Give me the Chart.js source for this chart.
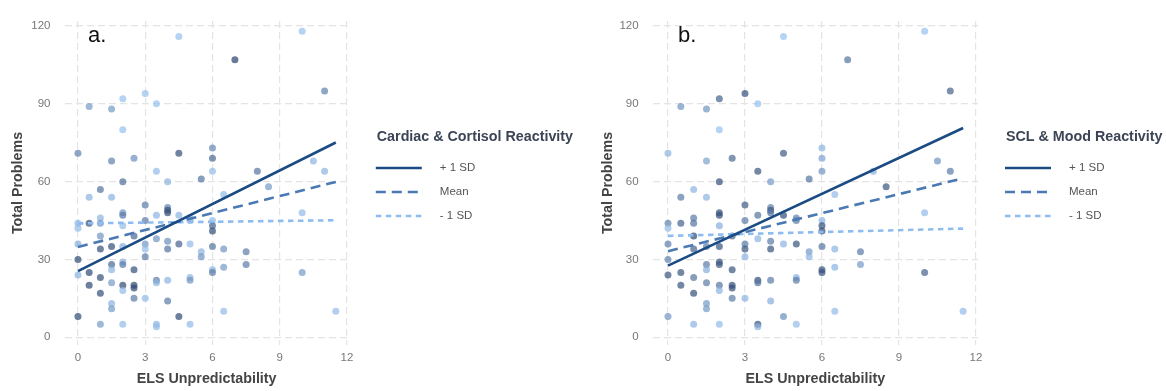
<!DOCTYPE html>
<html>
<head>
<meta charset="utf-8">
<script src="https://cdn.jsdelivr.net/npm/chart.js@4.4.1/dist/chart.umd.min.js"></script>
<style>
  html, body { margin: 0; padding: 0; background: #fff; }
  .panel { position: absolute; top: 0; }
  #panelA { left: 0; }
  #panelB { left: 590px; }
</style>
</head>
<body>
<div class="panel" id="panelA"><canvas id="chartA" width="590" height="391"></canvas></div>
<div class="panel" id="panelB"><canvas id="chartB" width="576" height="391"></canvas></div>
<script>
// ELS unpredictability (x) and total problems (y), same sample in both panels
const els = [4.5, 7, 10, 11, 0.5, 1.5, 2, 3, 3.5, 2,
  0, 1.5, 2.5, 4.5, 6, 6, 6, 3.5, 4, 5.5,
  2, 1, 0.5, 1.5, 3, 8, 8.5, 10.5, 11, 6.5,
  4, 4, 4, 2, 2, 1, 0.5, 0, 0, 1,
  2, 3, 3.5, 4.5, 5, 5, 6, 6, 6, 1,
  2.5, 0, 1, 1.5, 2, 3, 3, 3.5, 4, 4,
  4.5, 5, 5.5, 5.5, 6, 6.5, 7.5, 7.5, 0, 3,
  1.5, 2, 2, 2.5, 1.5, 0, 0.5, 1, 6, 6,
  6.5, 0.5, 1.5, 2, 2.5, 2.5, 2, 1, 3.5, 3.5,
  4, 5, 5, 1.5, 1.5, 2.5, 3, 4, 0, 4.5,
  6.5, 11.5, 1, 2, 3.5, 3.5, 5, 10, 10];
const total = [116, 107, 118, 95, 89, 88, 92, 94, 90, 80,
  71, 68, 69, 71, 73, 69, 64, 64, 60, 61,
  60, 57, 54, 54, 51, 64, 58, 68, 64, 55,
  50, 49, 48, 48, 47, 46, 44, 44, 42, 44,
  43, 45, 47, 47, 45, 46, 45, 43, 41, 39,
  39, 36, 34, 35, 35, 36, 34, 38, 37, 34,
  36, 36, 33, 31, 35, 34, 33, 28, 30, 31,
  28, 29, 28, 26, 26, 24, 25, 23, 26, 25,
  27, 20, 21, 20, 20, 19, 18, 17, 22, 21,
  22, 23, 22, 13, 11, 15, 15, 14, 8, 8,
  10, 10, 5, 5, 5, 4, 5, 25, 48];
// moderator shade per point (0 = low / light, 1 = high / dark)
const modA = [0, 1, 0, 0.5, 0.3, 0.3, 0, 0, 0, 0,
  0.5, 0.5, 0.4, 0.9, 0.45, 0.7, 0.05, 0.05, 0.1, 0.6,
  0.65, 0.6, 0.1, 0.1, 0.55, 0.6, 0.3, 0.1, 0.1, 0.05,
  0.5, 0.9, 0.9, 0.35, 0.55, 0.1, 0.9, 0.1, 0.05, 0.35,
  0.05, 0.55, 0.1, 0.1, 0.1, 0.1, 0.05, 0.75, 0.9, 0.35,
  0.7, 0.15, 0.9, 0.9, 0.15, 0.3, 0.05, 0.35, 0.4, 0.6,
  0.75, 0.05, 0.1, 0.35, 0.6, 0.35, 0.55, 0.55, 0.95, 0.55,
  0.7, 0.1, 0.55, 0.9, 0.1, 0.1, 0.95, 0.9, 0.1, 0.55,
  0.3, 0.95, 0.3, 0.95, 0.95, 0.95, 0.05, 0.9, 0.55, 0.1,
  0.1, 0.1, 0.35, 0.1, 0.3, 0.55, 0.05, 0.55, 0.95, 0.95,
  0.05, 0.05, 0.3, 0.05, 0.1, 0.05, 0.05, 0.3, 0.05];
const modB = [0, 0.6, 0, 0.75, 0.35, 0.35, 0.75, 0.9, 0, 0,
  0.1, 0.25, 0.7, 0.8, 0.1, 0.25, 0.35, 0.85, 0.3, 0.6,
  0.9, 0.1, 0.55, 0.1, 0.8, 0.15, 0.85, 0.35, 0.55, 0.05,
  0.5, 0.85, 0.6, 0.9, 0.9, 0.55, 0.75, 0.5, 0.05, 0.6,
  0.15, 0.55, 0.6, 0.9, 0.55, 0.5, 0.1, 0.9, 0.9, 0.95,
  0.7, 0.5, 0.75, 0.55, 0.85, 0.55, 0.85, 0.1, 0.55, 0.85,
  0.1, 0.85, 0.3, 0.1, 0.6, 0.1, 0.55, 0.3, 0.5, 0.1,
  0.55, 0.85, 0.85, 0.85, 0.15, 0.85, 0.85, 0.6, 0.9, 0.9,
  0.1, 0.85, 0.55, 0.6, 0.9, 0.9, 0.1, 0.9, 0.9, 0.6,
  0.55, 0.1, 0.55, 0.3, 0.3, 0.55, 0.1, 0.15, 0.35, 0.4,
  0.05, 0.05, 0.1, 0.05, 0.9, 0.1, 0.05, 0.75, 0.05];

// simple slopes, evaluated at the ends of the x range
const lineX = [0, 11.5];
const aPlus = [25.5, 75.1];
const aMean = [34.8, 59.9];
const aMinus = [43.9, 45.1];
const bPlus = [27.6, 80.7];
const bMean = [33.2, 61.3];
const bMinus = [39.1, 41.9];

const seriesLabels = ['+ 1 SD', 'Mean', '- 1 SD'];
const xTicks = [0, 3, 6, 9, 12];
const yTicks = [0, 30, 60, 90, 120];

Chart.defaults.font.family = '"Liberation Sans", Arial, sans-serif';

const light = [150, 192, 238];
const dark = [40, 66, 108];
function shadeColor(s) {
    const c = light.map((v, i) => Math.round(v + (dark[i] - v) * s));
    return 'rgba(' + c.join(',') + ',0.7)';
}

// legend on the right + panel letter
const sideLegend = {
    id: 'sideLegend',
    afterDraw(chart, args, opts) {
        const { ctx, chartArea } = chart;
        const x0 = chartArea.right + 28;
        ctx.save();
        ctx.textBaseline = 'middle';
        ctx.textAlign = 'left';
        ctx.font = 'bold 14.3px "Liberation Sans", Arial, sans-serif';
        ctx.fillStyle = '#3b4556';
        ctx.fillText(opts.title, x0, 137);
        chart.data.datasets.filter(d => d.type === 'line').forEach((d, i) => {
            const y = 168 + i * 24;
            ctx.strokeStyle = d.borderColor;
            ctx.lineWidth = d.borderWidth;
            ctx.setLineDash(d.borderDash || []);
            ctx.beginPath();
            ctx.moveTo(x0 - 1, y);
            ctx.lineTo(x0 + 45, y);
            ctx.stroke();
            ctx.setLineDash([]);
            ctx.font = '11.5px "Liberation Sans", Arial, sans-serif';
            ctx.fillStyle = '#555';
            ctx.fillText(d.label, chartArea.right + 91, y);
        });
        ctx.font = '22px "Liberation Sans", Arial, sans-serif';
        ctx.fillStyle = '#111';
        ctx.fillText(opts.tag, chart.scales.x.getPixelForValue(0) + 10, 36);
        ctx.restore();
    }
};

function lineSet(label, ys, color, dash) {
    return {
        type: 'line',
        label: label,
        data: lineX.map((x, i) => ({ x: x, y: ys[i] })),
        borderColor: color,
        borderWidth: 2.6,
        borderDash: dash,
        pointRadius: 0,
        fill: false,
        order: 0
    };
}

function makePanel(id, mod, plus, mean, minus, cfg) {
    new Chart(document.getElementById(id), {
        type: 'scatter',
        data: {
            datasets: [
                lineSet(seriesLabels[0], plus, '#1b4b83', []),
                lineSet(seriesLabels[1], mean, '#4a79b4', [10, 6]),
                lineSet(seriesLabels[2], minus, '#8dbdf0', [5.5, 4.5]),
                {
                    label: 'points',
                    data: els.map((x, i) => ({ x: x, y: total[i] })),
                    backgroundColor: mod.map(shadeColor),
                    pointRadius: 3.5,
                    borderWidth: 0,
                    order: 1
                }
            ]
        },
        options: {
            responsive: false,
            animation: false,
            events: [],
            layout: { padding: { top: 11.7, right: cfg.padRight, left: 0, bottom: 0 } },
            plugins: {
                legend: { display: false },
                tooltip: { enabled: false },
                sideLegend: { title: cfg.title, tag: cfg.tag }
            },
            scales: {
                x: {
                    type: 'linear',
                    min: -0.6,
                    max: 12.08,
                    afterBuildTicks: s => { s.ticks = xTicks.map(v => ({ value: v })); },
                    afterFit: s => { s.height = 46; },
                    grid: { color: '#e4e4e4', lineWidth: 1.2, drawTicks: false },
                    border: { display: false, dash: [7, 4] },
                    ticks: { padding: 6, color: '#777', font: { size: 11.5 } },
                    title: {
                        display: true,
                        text: 'ELS Unpredictability',
                        color: '#444',
                        font: { size: 14.3, weight: 'bold' },
                        padding: { top: 0, bottom: 3 }
                    }
                },
                y: {
                    type: 'linear',
                    min: -3,
                    max: 122,
                    afterBuildTicks: s => { s.ticks = yTicks.map(v => ({ value: v })); },
                    afterFit: s => { s.width = cfg.yWidth; },
                    grid: { color: '#e4e4e4', lineWidth: 1.2, drawTicks: false },
                    border: { display: false, dash: [7, 4] },
                    ticks: { padding: 14, color: '#777', font: { size: 11.5 } },
                    title: {
                        display: true,
                        text: 'Total Problems',
                        color: '#444',
                        font: { size: 14.3, weight: 'bold' },
                        padding: { top: 9, bottom: 0 }
                    }
                }
            }
        },
        plugins: [sideLegend]
    });
}

makePanel('chartA', modA, aPlus, aMean, aMinus,
    { title: 'Cardiac & Cortisol Reactivity', tag: 'a.', padRight: 241.2, yWidth: 64.5 });
makePanel('chartB', modB, bPlus, bMean, bMinus,
    { title: 'SCL & Mood Reactivity', tag: 'b.', padRight: 188, yWidth: 62.6 });
</script>
</body>
</html>
